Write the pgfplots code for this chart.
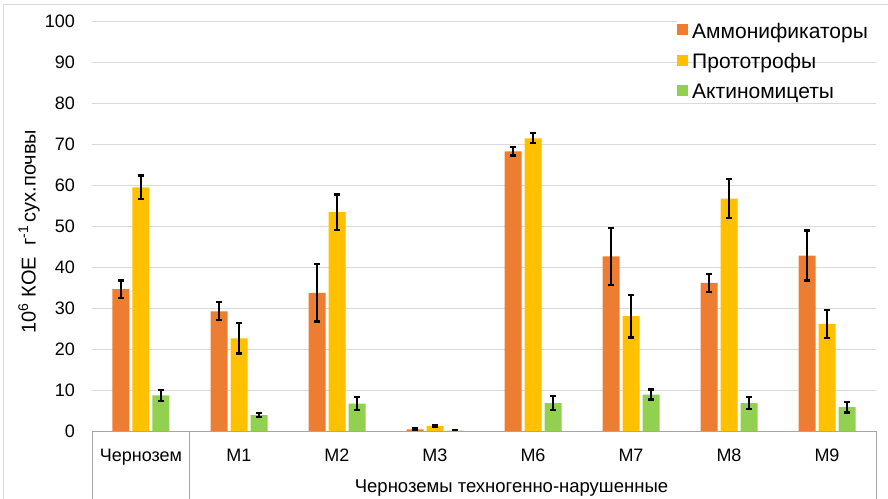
\documentclass[border=0pt]{standalone}
\usepackage{fontspec}
\setmainfont{Liberation Sans}
\usepackage{pgfplots}
\usepackage{pgfplotstable}
\pgfplotsset{compat=1.18}

\definecolor{ammcol}{HTML}{ED7D31}
\definecolor{procol}{HTML}{FFC000}
\definecolor{actcol}{HTML}{92D050}
\definecolor{gridcol}{HTML}{D9D9D9}
\definecolor{boxcol}{HTML}{A6A6A6}

% cat: 0 = Чернозем, 1..7 = M1, M2, M3, M6, M7, M8, M9
\pgfplotstableread{
cat amm  ammE pro  proE act actE
0   34.6 2.1  59.4 2.9  8.7 1.3
1   29.2 2.2  22.6 3.7  3.9 0.5
2   33.7 7.0  53.4 4.3  6.7 1.6
3   0.4  0.3  1.2  0.3  0.1 0.1
4   68.2 1.0  71.4 1.2  6.8 1.7
5   42.6 7.0  28.0 5.2  8.9 1.2
6   36.1 2.2  56.7 4.8  6.8 1.5
7   42.8 6.1  26.1 3.4  5.8 1.3
}\data

\begin{document}
\begin{tikzpicture}
\useasboundingbox (-92bp,-68bp) rectangle (796bp,431bp);
% chart frame
\draw[gridcol, line width=0.8bp] (-89bp,-68bp) -- (-89bp,427bp) -- (796bp,427bp);
\begin{axis}[
  at={(0,0)}, anchor=south west,
  scale only axis, width=784bp, height=410bp,
  xmin=-0.5, xmax=7.5, ymin=0, ymax=100,
  ytick={0,10,...,100},
  xtick={0,...,7},
  xticklabels={Чернозем,M1,M2,M3,M6,M7,M8,M9},
  axis lines*=left,
  y axis line style={draw=none},
  x axis line style={draw=boxcol, line width=0.8bp},
  major tick length=0pt,
  ymajorgrids, grid style={draw=gridcol, line width=0.8bp},
  font=\fontsize{18bp}{21bp}\selectfont,
  /pgf/number format/assume math mode=true,
  yticklabel style={anchor=east, inner sep=0pt, xshift=-17bp},
  xticklabel style={anchor=base, yshift=-30.7bp},
  ybar=3bp, bar width=17bp,
  every axis plot/.append style={draw=none},
  error bars/y dir=both, error bars/y explicit,
  error bars/error bar style={black, line width=2bp},
  error bars/error mark options={rotate=90, black, line width=2.2bp, mark size=3bp},
  legend style={at={(0.7462,0.998)}, anchor=north west, draw=none, fill=none,
    inner sep=0pt, row sep=12bp, font=\fontsize{21bp}{24bp}\selectfont,
    nodes={inner sep=1bp}},
  legend cell align=left,
  legend image code/.code={
    \path[#1, draw=none] (0bp,-3.5bp) rectangle (11bp,7.5bp);
    \path (0bp,0bp) -- (14bp,0bp);},
]
\addplot[fill=ammcol] table[x=cat, y=amm, y error=ammE] {\data};
\addplot[fill=procol] table[x=cat, y=pro, y error=proE] {\data};
\addplot[fill=actcol] table[x=cat, y=act, y error=actE] {\data};
\legend{Аммонификаторы,Прототрофы,Актиномицеты}
\end{axis}
% the legend has a white backing across the top gridline
\fill[white] (585bp,409.3bp) rectangle (785bp,411.5bp);
% category group box
\draw[boxcol, line width=0.8bp] (0bp,0bp) -- (0bp,-68bp);
\draw[boxcol, line width=0.8bp] (97bp,0bp) -- (97bp,-68bp);
\draw[boxcol, line width=0.8bp] (784bp,0bp) -- (784bp,-68bp);
\node[anchor=base, font=\fontsize{18.5bp}{21bp}\selectfont] at (419.5bp,-61bp) {Черноземы техногенно-нарушенные};
\node[rotate=90, font=\fontsize{20bp}{22bp}\selectfont] at (-63bp,199.5bp) {10\textsuperscript{6} КОЕ\ \ г\textsuperscript{-1}\,сух.почвы};
\end{tikzpicture}
\end{document}
